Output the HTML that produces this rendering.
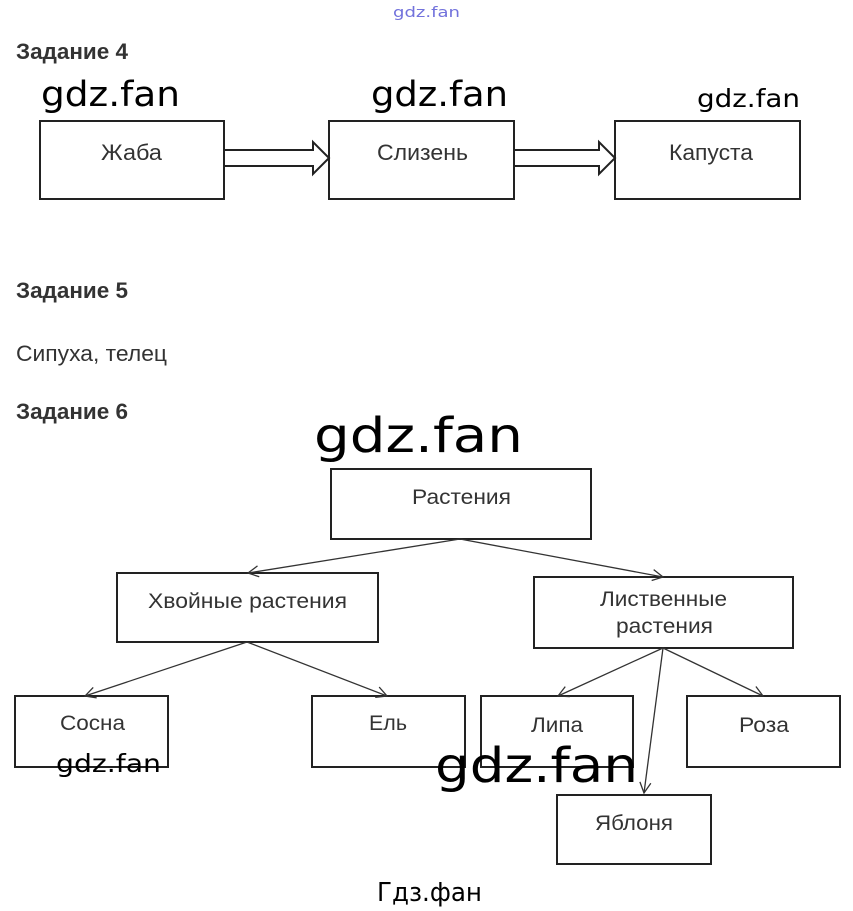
<!DOCTYPE html>
<html>
<head>
<meta charset="utf-8">
<style>
  html, body { margin: 0; padding: 0; background: #ffffff; }
  svg { display: block; }
</style>
</head>
<body>
<svg width="853" height="911" viewBox="0 0 853 911" xmlns="http://www.w3.org/2000/svg">
  <defs>
    <marker id="ah" markerWidth="14" markerHeight="14" refX="12" refY="7" orient="auto" markerUnits="userSpaceOnUse">
      <path d="M1.5,1.5 L12,7 L1.5,12.5" fill="none" stroke="#333" stroke-width="1.3"/>
    </marker>
  </defs>
  <rect x="0" y="0" width="853" height="911" fill="#fff"/>

  <!-- top small blue watermark -->
  <text x="393" y="17" font-family="DejaVu Sans, sans-serif" font-size="14" fill="#7272dc" textLength="67" lengthAdjust="spacingAndGlyphs">gdz.fan</text>

  <!-- headings -->
  <g font-family="'Liberation Sans', 'DejaVu Sans', sans-serif" font-weight="bold" font-size="22" fill="#333">
    <text x="16" y="59" textLength="112" lengthAdjust="spacingAndGlyphs">Задание 4</text>
    <text x="16" y="298" textLength="112" lengthAdjust="spacingAndGlyphs">Задание 5</text>
    <text x="16" y="419" textLength="112" lengthAdjust="spacingAndGlyphs">Задание 6</text>
  </g>
  <text x="16" y="361" font-family="'Liberation Sans', 'DejaVu Sans', sans-serif" font-size="22" fill="#333" textLength="151" lengthAdjust="spacingAndGlyphs">Сипуха, телец</text>

  <!-- Task 4 boxes -->
  <g fill="none" stroke="#222" stroke-width="2">
    <rect x="40" y="121" width="184" height="78"/>
    <rect x="329" y="121" width="185" height="78"/>
    <rect x="615" y="121" width="185" height="78"/>
    <!-- hollow arrows -->
    <path d="M225,150 L313,150 L313,142 L329,158 L313,174 L313,166 L225,166" stroke-linejoin="miter"/>
    <path d="M515,150 L599,150 L599,142 L615,158 L599,174 L599,166 L515,166" stroke-linejoin="miter"/>
  </g>
  <g font-family="'Liberation Sans', 'DejaVu Sans', sans-serif" font-size="22" fill="#333">
    <text x="101" y="160" textLength="61" lengthAdjust="spacingAndGlyphs">Жаба</text>
    <text x="377" y="160" textLength="91" lengthAdjust="spacingAndGlyphs">Слизень</text>
    <text x="669" y="160" textLength="84" lengthAdjust="spacingAndGlyphs">Капуста</text>
  </g>

  <!-- Task 6 tree boxes -->
  <g fill="none" stroke="#222" stroke-width="2">
    <rect x="331" y="469" width="260" height="70"/>
    <rect x="117" y="573" width="261" height="69"/>
    <rect x="534" y="577" width="259" height="71"/>
    <rect x="15" y="696" width="153" height="71"/>
    <rect x="312" y="696" width="153" height="71"/>
    <rect x="481" y="696" width="152" height="71"/>
    <rect x="687" y="696" width="153" height="71"/>
    <rect x="557" y="795" width="154" height="69"/>
  </g>

  <!-- connectors -->
  <g stroke="#333" stroke-width="1.3" fill="none">
    <line x1="460" y1="539" x2="248" y2="573" marker-end="url(#ah)"/>
    <line x1="460" y1="539" x2="663" y2="577" marker-end="url(#ah)"/>
    <line x1="247" y1="642" x2="85" y2="696" marker-end="url(#ah)"/>
    <line x1="247" y1="642" x2="387" y2="696" marker-end="url(#ah)"/>
    <line x1="663" y1="648" x2="558" y2="696" marker-end="url(#ah)"/>
    <line x1="663" y1="648" x2="763" y2="696" marker-end="url(#ah)"/>
    <line x1="663" y1="648" x2="644" y2="793" marker-end="url(#ah)"/>
  </g>

  <!-- tree labels -->
  <g font-family="'Liberation Sans', 'DejaVu Sans', sans-serif" font-size="21.5" fill="#333">
    <text x="412" y="504" textLength="99" lengthAdjust="spacingAndGlyphs">Растения</text>
    <text x="148" y="608" textLength="199" lengthAdjust="spacingAndGlyphs">Хвойные растения</text>
    <text x="600" y="606" textLength="127" lengthAdjust="spacingAndGlyphs">Лиственные</text>
    <text x="616" y="633" textLength="97" lengthAdjust="spacingAndGlyphs">растения</text>
    <text x="60" y="730" textLength="65" lengthAdjust="spacingAndGlyphs">Сосна</text>
    <text x="369" y="730" textLength="38" lengthAdjust="spacingAndGlyphs">Ель</text>
    <text x="531" y="732" textLength="52" lengthAdjust="spacingAndGlyphs">Липа</text>
    <text x="739" y="732" textLength="50" lengthAdjust="spacingAndGlyphs">Роза</text>
    <text x="595" y="830" textLength="78" lengthAdjust="spacingAndGlyphs">Яблоня</text>
  </g>

  <!-- black watermarks -->
  <g font-family="'DejaVu Sans', sans-serif" fill="#000">
    <text x="41" y="106" font-size="35" textLength="139" lengthAdjust="spacingAndGlyphs">gdz.fan</text>
    <text x="371" y="106" font-size="35" textLength="137" lengthAdjust="spacingAndGlyphs">gdz.fan</text>
    <text x="697" y="107" font-size="25" textLength="103" lengthAdjust="spacingAndGlyphs">gdz.fan</text>
    <text x="314" y="452" font-size="48" textLength="209" lengthAdjust="spacingAndGlyphs">gdz.fan</text>
    <text x="56" y="772" font-size="25" textLength="105" lengthAdjust="spacingAndGlyphs">gdz.fan</text>
    <text x="435" y="782" font-size="48" textLength="203" lengthAdjust="spacingAndGlyphs">gdz.fan</text>
    <text x="377" y="901" font-size="26" textLength="105" lengthAdjust="spacingAndGlyphs">Гдз.фан</text>
  </g>
</svg>
</body>
</html>
